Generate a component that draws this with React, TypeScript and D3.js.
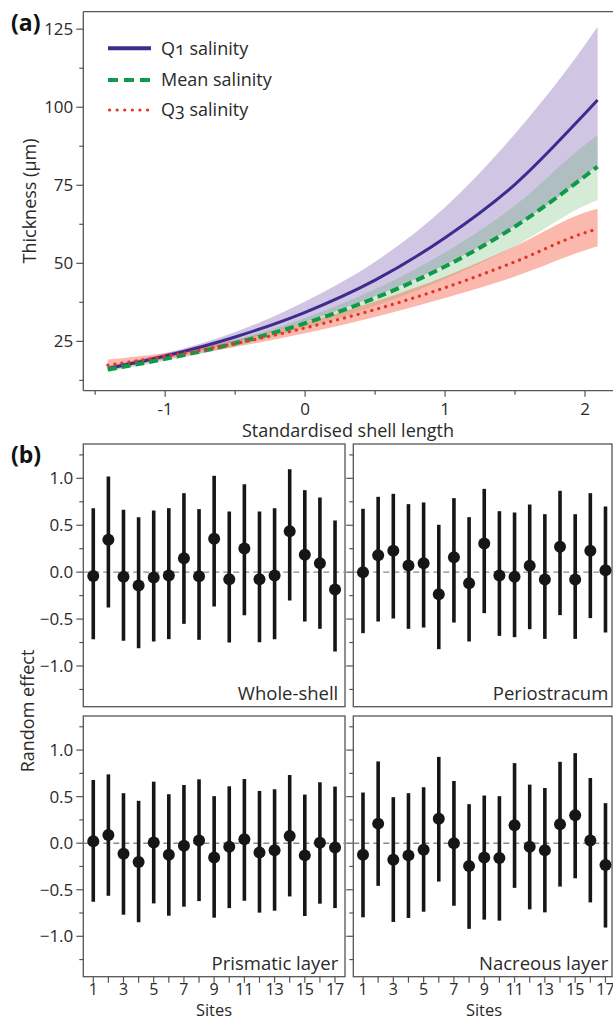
import React from "react";
import * as d3 from "d3";

// ---------- Panel (a) data ----------
const xVals = [-1.41, -1, -0.5, 0, 0.5, 1, 1.5, 2, 2.09];
const q1Fit = [16.3, 20.3, 26.4, 34.3, 44.6, 58.2, 75.3, 98, 102.3];
const q1Lo = [15.5, 19.5, 24.9, 31.2, 39.5, 49.5, 62, 78, 81.5];
const q1Hi = [17.3, 21.2, 28, 37.8, 50.5, 68, 91.5, 120, 125.8];
const meanFit = [16, 19.4, 24.4, 30.8, 38.9, 49, 61.8, 77.9, 81];
const meanLo = [15.2, 18.7, 23.4, 29.2, 36.3, 45, 55.5, 68.5, 70.3];
const meanHi = [16.8, 20.2, 25.5, 32.5, 41.7, 53.5, 68.5, 88, 91];
const q3Fit = [17.4, 20.2, 24.3, 29.3, 35.2, 42.2, 50.5, 59.8, 61];
const q3Lo = [15.8, 19.2, 23.2, 27.6, 32.8, 38.9, 45.8, 54.2, 55.5];
const q3Hi = [19.2, 21.3, 25.4, 31.1, 37.8, 45.8, 55.5, 66.3, 67.5];
const aYTicks = [25, 50, 75, 100, 125];
const aYMinor = [12.5, 37.5, 62.5, 87.5, 112.5];
const aXTicks = [-1, 0, 1, 2];
const aXMinor = [-1.5, -0.5, 0.5, 1.5];
const legendLabels = ["Q1 salinity", "Mean salinity", "Q3 salinity"];

// ---------- Panel (b) data ----------
const sites = [1, 2, 3, 4, 5, 6, 7, 8, 9, 10, 11, 12, 13, 14, 15, 16, 17];
const siteLabels = [1, 3, 5, 7, 9, 11, 13, 15, 17];
const wholeEst = [-0.04, 0.345, -0.05, -0.142, -0.057, -0.036, 0.149, -0.043, 0.355, -0.075, 0.252, -0.075, -0.036, 0.437, 0.185, 0.096, -0.185];
const wholeLo = [-0.714, -0.377, -0.732, -0.81, -0.739, -0.714, -0.551, -0.721, -0.366, -0.75, -0.458, -0.746, -0.714, -0.302, -0.526, -0.604, -0.846];
const wholeHi = [0.682, 1.02, 0.665, 0.586, 0.657, 0.682, 0.842, 0.672, 1.027, 0.647, 0.938, 0.647, 0.682, 1.098, 0.874, 0.796, 0.551];
const perioEst = [0.0, 0.181, 0.227, 0.071, 0.096, -0.235, 0.16, -0.117, 0.306, -0.036, -0.05, 0.068, -0.078, 0.27, -0.078, 0.227, 0.021];
const perioLo = [-0.65, -0.526, -0.494, -0.604, -0.59, -0.821, -0.537, -0.739, -0.437, -0.679, -0.693, -0.608, -0.711, -0.458, -0.711, -0.49, -0.643];
const perioHi = [0.675, 0.803, 0.835, 0.725, 0.743, 0.505, 0.789, 0.586, 0.888, 0.65, 0.636, 0.721, 0.618, 0.867, 0.618, 0.842, 0.7];
const prismEst = [0.021, 0.089, -0.114, -0.203, 0.007, -0.124, -0.028, 0.028, -0.153, -0.039, 0.043, -0.1, -0.075, 0.078, -0.131, 0.004, -0.046];
const prismLo = [-0.629, -0.565, -0.768, -0.849, -0.647, -0.779, -0.682, -0.622, -0.8, -0.697, -0.618, -0.746, -0.725, -0.572, -0.782, -0.65, -0.697];
const prismHi = [0.679, 0.739, 0.537, 0.455, 0.661, 0.526, 0.625, 0.686, 0.505, 0.611, 0.689, 0.561, 0.579, 0.732, 0.522, 0.654, 0.608];
const nacrEst = [-0.124, 0.21, -0.178, -0.131, -0.071, 0.263, 0.0, -0.245, -0.153, -0.16, 0.192, -0.039, -0.075, 0.203, 0.299, 0.028, -0.235];
const nacrLo = [-0.796, -0.458, -0.846, -0.803, -0.736, -0.412, -0.672, -0.92, -0.821, -0.832, -0.48, -0.711, -0.743, -0.466, -0.377, -0.636, -0.906];
const nacrHi = [0.544, 0.878, 0.494, 0.537, 0.601, 0.927, 0.668, 0.419, 0.512, 0.505, 0.86, 0.629, 0.593, 0.874, 0.967, 0.7, 0.43];
const bYTicks = [-1, -0.5, 0, 0.5, 1];
const bYMinor = [-1.25, -0.75, -0.25, 0.25, 0.75, 1.25];

const FONT = "'Open Sans', 'Noto Sans', sans-serif";
const AXIS = "#555";
const TEXT = "#2a2a2a";
const TICK_FS = 17;
const TITLE_FS = 18;

function PanelA() {
  const x = d3.scaleLinear().domain([-1.585, 2.2]).range([83.3, 613]);
  const y = d3.scaleLinear().domain([9.2, 130.6]).range([390.7, 11.7]);
  const idx = d3.range(xVals.length);
  const area = (lo: number[], hi: number[]) =>
    d3.area<number>().x((i) => x(xVals[i])).y0((i) => y(lo[i])).y1((i) => y(hi[i])).curve(d3.curveMonotoneX)(idx) || "";
  const line = (v: number[]) =>
    d3.line<number>().x((i) => x(xVals[i])).y((i) => y(v[i])).curve(d3.curveMonotoneX)(idx) || "";
  const left = 83.3, bottom = 390.7;
  const legendY = [48.3, 80, 110];
  return (
    <g>
      <path d={area(q1Lo, q1Hi)} fill="rgb(120,90,175)" fillOpacity={0.35} />
      <path d={area(meanLo, meanHi)} fill="rgb(60,170,70)" fillOpacity={0.22} />
      <path d={area(q3Lo, q3Hi)} fill="rgb(245,100,70)" fillOpacity={0.45} />
      <path d={line(q1Fit)} fill="none" stroke="#3d2b8e" strokeWidth={3} />
      <path d={line(meanFit)} fill="none" stroke="#0e9a48" strokeWidth={4} strokeDasharray="9 5" />
      <path d={line(q3Fit)} fill="none" stroke="#e8312b" strokeWidth={3.2} strokeDasharray="0.1 7" strokeLinecap="round" />
      {/* axes */}
      <line x1={left} x2={613} y1={11.7} y2={11.7} stroke={AXIS} strokeWidth={1.3} />
      <line x1={left} x2={left} y1={11.7} y2={bottom} stroke={AXIS} strokeWidth={1.3} />
      <line x1={left} x2={613} y1={bottom} y2={bottom} stroke={AXIS} strokeWidth={1.3} />
      {aYTicks.map((t) => (
        <g key={"ay" + t}>
          <line x1={left - 7} x2={left} y1={y(t)} y2={y(t)} stroke={AXIS} strokeWidth={1.2} />
          <text x={left - 10} y={y(t)} dy="0.35em" textAnchor="end" fontSize={TICK_FS} fill={TEXT}>{t}</text>
        </g>
      ))}
      {aYMinor.map((t) => (
        <line key={"aym" + t} x1={left - 4} x2={left} y1={y(t)} y2={y(t)} stroke={AXIS} strokeWidth={1.2} />
      ))}
      {aXTicks.map((t) => (
        <g key={"ax" + t}>
          <line x1={x(t)} x2={x(t)} y1={bottom} y2={bottom + 6} stroke={AXIS} strokeWidth={1.2} />
          <text x={x(t)} y={414.5} textAnchor="middle" fontSize={TICK_FS} fill={TEXT}>{t}</text>
        </g>
      ))}
      {aXMinor.map((t) => (
        <line key={"axm" + t} x1={x(t)} x2={x(t)} y1={bottom} y2={bottom + 4} stroke={AXIS} strokeWidth={1.2} />
      ))}
      <text x={348} y={437} textAnchor="middle" fontSize={TITLE_FS} fill={TEXT}>Standardised shell length</text>
      <text transform="translate(36,201) rotate(-90)" textAnchor="middle" fontSize={TITLE_FS} fill={TEXT}>Thickness (µm)</text>
      <text x={11} y={31} fontSize={23} fontWeight="bold" fill="#111">(a)</text>
      {/* legend */}
      <line x1={108} x2={151} y1={legendY[0]} y2={legendY[0]} stroke="#3d2b8e" strokeWidth={4} />
      <line x1={108} x2={151} y1={legendY[1]} y2={legendY[1]} stroke="#0e9a48" strokeWidth={4} strokeDasharray="10 6" />
      <line x1={109.5} x2={151} y1={legendY[2]} y2={legendY[2]} stroke="#e8312b" strokeWidth={3.2} strokeDasharray="0.1 7.5" strokeLinecap="round" />
      {legendLabels.map((l, i) => (
        <text key={l} x={161} y={legendY[i]} dy="0.35em" fontSize={18} fill={TEXT} style={{ fontVariantNumeric: "oldstyle-nums" }}>{l}</text>
      ))}
    </g>
  );
}

type SubProps = {
  x0: number; x1: number; y0: number; y1: number; dom: [number, number];
  est: number[]; lo: number[]; hi: number[]; name: string;
  yLabels: boolean; xAxis: boolean; nameRight: number; titleX: number;
};

function SubPanel(p: SubProps) {
  const x = d3.scaleLinear().domain(p.dom).range([p.x0, p.x1]);
  const y = d3.scaleLinear().domain([-1.434, 1.366]).range([p.y1, p.y0]);
  return (
    <g>
      <rect x={p.x0} y={p.y0} width={p.x1 - p.x0} height={p.y1 - p.y0} fill="none" stroke={AXIS} strokeWidth={1.3} />
      <line x1={p.x0} x2={p.x1} y1={y(0)} y2={y(0)} stroke="#8a8a8a" strokeWidth={1.4} strokeDasharray="6 4" />
      {bYTicks.map((t) => (
        <g key={"t" + t}>
          <line x1={p.x0 - 7} x2={p.x0} y1={y(t)} y2={y(t)} stroke={AXIS} strokeWidth={1.2} />
          {p.yLabels && (
            <text x={p.x0 - 10} y={y(t)} dy="0.35em" textAnchor="end" fontSize={TICK_FS} fill={TEXT}>{d3.format(".1f")(t)}</text>
          )}
        </g>
      ))}
      {bYMinor.map((t) => (
        <line key={"m" + t} x1={p.x0 - 4} x2={p.x0} y1={y(t)} y2={y(t)} stroke={AXIS} strokeWidth={1.2} />
      ))}
      {sites.map((s, i) => (
        <g key={s}>
          <line x1={x(s)} x2={x(s)} y1={y(p.lo[i])} y2={y(p.hi[i])} stroke="#161616" strokeWidth={3.6} />
          <circle cx={x(s)} cy={y(p.est[i])} r={6} fill="#161616" />
          {p.xAxis && (
            <line x1={x(s)} x2={x(s)} y1={p.y1} y2={p.y1 + 6} stroke={AXIS} strokeWidth={1.2} />
          )}
        </g>
      ))}
      {p.xAxis && siteLabels.map((s) => (
        <text key={"l" + s} x={x(s)} y={994.5} textAnchor="middle" fontSize={16} fill={TEXT}>{s}</text>
      ))}
      {p.xAxis && (
        <text x={p.titleX} y={1015.5} textAnchor="middle" fontSize={16.5} fill={TEXT}>Sites</text>
      )}
      <text x={p.nameRight} y={p.y1 - 7} textAnchor="end" fontSize={18.5} fill={TEXT}>{p.name}</text>
    </g>
  );
}

export default function App() {
  const L = { x0: 83.3, x1: 345, dom: [0.34, 17.66] as [number, number], titleX: 214 };
  const R = { x0: 353.3, x1: 612, dom: [0.36, 17.43] as [number, number], titleX: 484 };
  const T = { y0: 444, y1: 706.7 };
  const B = { y0: 716, y1: 976.7 };
  return (
    <svg width={613} height={1021} style={{ position: "absolute", left: 0, top: 0, fontFamily: FONT }}>
      <rect width={613} height={1021} fill="#fff" />
      <PanelA />
      <text x={11} y={463} fontSize={23} fontWeight="bold" fill="#111">(b)</text>
      <text transform="translate(34,711) rotate(-90)" textAnchor="middle" fontSize={TITLE_FS} fill={TEXT}>Random effect</text>
      <SubPanel {...L} {...T} est={wholeEst} lo={wholeLo} hi={wholeHi} name="Whole-shell" yLabels={true} xAxis={false} nameRight={338.3} />
      <SubPanel {...R} {...T} est={perioEst} lo={perioLo} hi={perioHi} name="Periostracum" yLabels={false} xAxis={false} nameRight={608.3} />
      <SubPanel {...L} {...B} est={prismEst} lo={prismLo} hi={prismHi} name="Prismatic layer" yLabels={true} xAxis={true} nameRight={338.3} />
      <SubPanel {...R} {...B} est={nacrEst} lo={nacrLo} hi={nacrHi} name="Nacreous layer" yLabels={false} xAxis={true} nameRight={608.3} />
    </svg>
  );
}
